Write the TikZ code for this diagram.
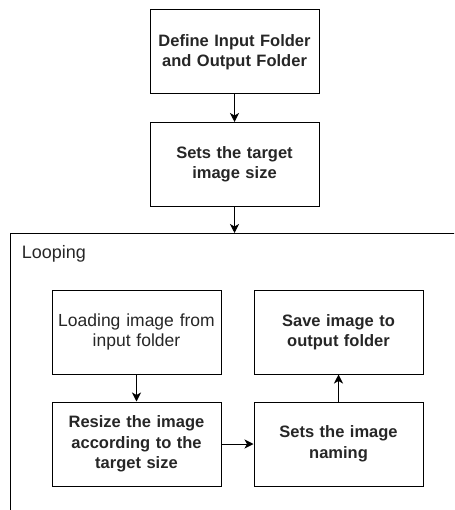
\documentclass[tikz,border=0pt]{standalone}
\usepackage{fontspec}
\setmainfont{Liberation Sans}
\usetikzlibrary{arrows.meta}

\begin{document}
\begin{tikzpicture}[
    x=1pt, y=-1pt,
    >={Stealth[length=9pt,width=9pt,inset=2.5pt]},
    line width=1pt,
    every node/.style={text=black!85},
    stepbox/.style={draw=black, minimum width=169pt, minimum height=84pt,
        align=center, text width=167pt, inner sep=0pt,
        font=\bfseries\fontsize{16.5}{20.5}\selectfont},
    plainbox/.style={stepbox, font=\fontsize{17.5}{20.5}\selectfont}
]
    \useasboundingbox (0,0) rectangle (454,510);
    \clip (0,0) rectangle (454,510);

    % Setup steps
    \node[stepbox] (define) at (234.5,52) {Define Input Folder\\and Output Folder};
    \node[stepbox] (target) at (234.5,164.5) {Sets the target\\image size};

    % Loop frame (runs off the right and bottom edges)
    \draw (10,233) rectangle (480,540);
    \coordinate (looptop) at (234.5,233);
    \node[anchor=west, font=\fontsize{18}{20}\selectfont] (looplabel) at (18,254) {Looping};

    % Steps inside the loop
    \node[plainbox] (load) at (136.5,332) {Loading image from\\input folder};
    \node[stepbox] (save) at (338.5,332) {Save image to\\output folder};
    \node[stepbox] (resize) at (136.5,444) {Resize the image\\according to the\\target size};
    \node[stepbox] (naming) at (338.5,444) {Sets the image\\naming};

    % Connectors
    \draw[->] (define) -- (target);
    \draw[->] (target) -- (looptop);
    \draw[->] (load) -- (resize);
    \draw[->] (resize) -- (naming);
    \draw[->] (naming) -- (save);
\end{tikzpicture}
\end{document}
